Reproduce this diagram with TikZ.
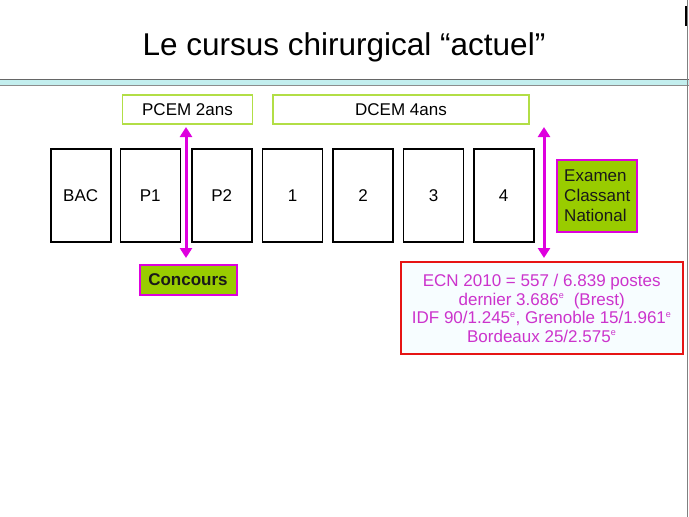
\documentclass[tikz,border=0pt]{standalone}
\usepackage{fontspec}
\setmainfont{Liberation Sans}
\usetikzlibrary{arrows.meta}

\definecolor{vertclair}{RGB}{178,222,70}
\definecolor{vertfond}{RGB}{153,204,0}
\definecolor{magenta2}{RGB}{222,0,222}
\definecolor{texteecn}{RGB}{204,51,204}
\definecolor{rougeecn}{RGB}{230,20,20}
\definecolor{bande}{RGB}{195,238,238}

\newcommand{\rang}{\textsuperscript{\fontsize{9}{9}\selectfont e}}

\begin{document}
\begin{tikzpicture}[x=1pt,y=-1pt,
    annee/.style={draw=black,line width=1.6pt,minimum width=60pt,minimum height=93pt,
      inner sep=0pt,font=\fontsize{17}{19}\selectfont},
    periode/.style={draw=vertclair,line width=1.6pt,minimum height=29pt,inner sep=0pt,
      font=\fontsize{17}{19}\selectfont},
    etiquette/.style={draw=magenta2,fill=vertfond,line width=2pt,inner sep=0pt,
      text=black!90},
    fleche/.style={magenta2,line width=3pt,{Triangle[length=10pt,width=12pt]}-{Triangle[length=10pt,width=12pt]}}
  ]
  \useasboundingbox (0,0) rectangle (689,517);

  % titre et bandeau
  \node (titre) at (344,47) {\fontsize{31.5}{34}\selectfont Le cursus chirurgical ``actuel''};
  \fill[bande] (0,79) rectangle (689,85);
  \draw[black!60,line width=0.8pt] (0,79) -- (689,79);
  \draw[black!45,line width=0.8pt] (0,85) -- (689,85);
  \draw[black!50,line width=1pt] (687.5,0) -- (687.5,517);
  \draw[black,line width=2pt] (686,6) -- (686,26);

  % les annees
  \foreach \x/\nom/\label in {
    80.7/bac/BAC,
    150.3/p1/P1,
    221.8/p2/P2,
    292.5/d1/1,
    363/d2/2,
    433.5/d3/3,
    503.7/d4/4
  }{
    \node[annee] (\nom) at (\x,195.7) {\label};
  }

  \node[periode,minimum width=130pt] (pcem) at (187.5,109.5) {PCEM 2ans};
  \node[periode,minimum width=256pt] (dcem) at (401,109.5) {DCEM 4ans};

  % les concours
  \coordinate (c1h) at (186,127);
  \coordinate (c1b) at (186,258);
  \coordinate (c2h) at (544,127);
  \coordinate (c2b) at (544,258);
  \draw[fleche] (c1h) -- (c1b);
  \draw[fleche] (c2h) -- (c2b);

  \node[etiquette,minimum width=97pt,minimum height=30pt,
    font=\fontsize{17}{19}\selectfont\bfseries] (concours) at (188,280) {Concours};
  \node[etiquette,minimum width=80pt,minimum height=72pt,align=left,
    font=\fontsize{17}{20}\selectfont] (ecn) at (597.3,196) {Examen\\Classant\\National};

  \node[draw=rougeecn,fill=cyan!3,line width=1.8pt,minimum width=282pt,minimum height=92pt,
    inner sep=0pt,align=center,text=texteecn,font=\fontsize{17}{18.5}\selectfont]
    (resultats) at (541.7,308.3)
    {ECN 2010 = 557 / 6.839 postes\\
     dernier 3.686\rang\ \ (Brest)\\
     IDF 90/1.245\rang, Grenoble 15/1.961\rang\\
     Bordeaux 25/2.575\rang};
\end{tikzpicture}
\end{document}
